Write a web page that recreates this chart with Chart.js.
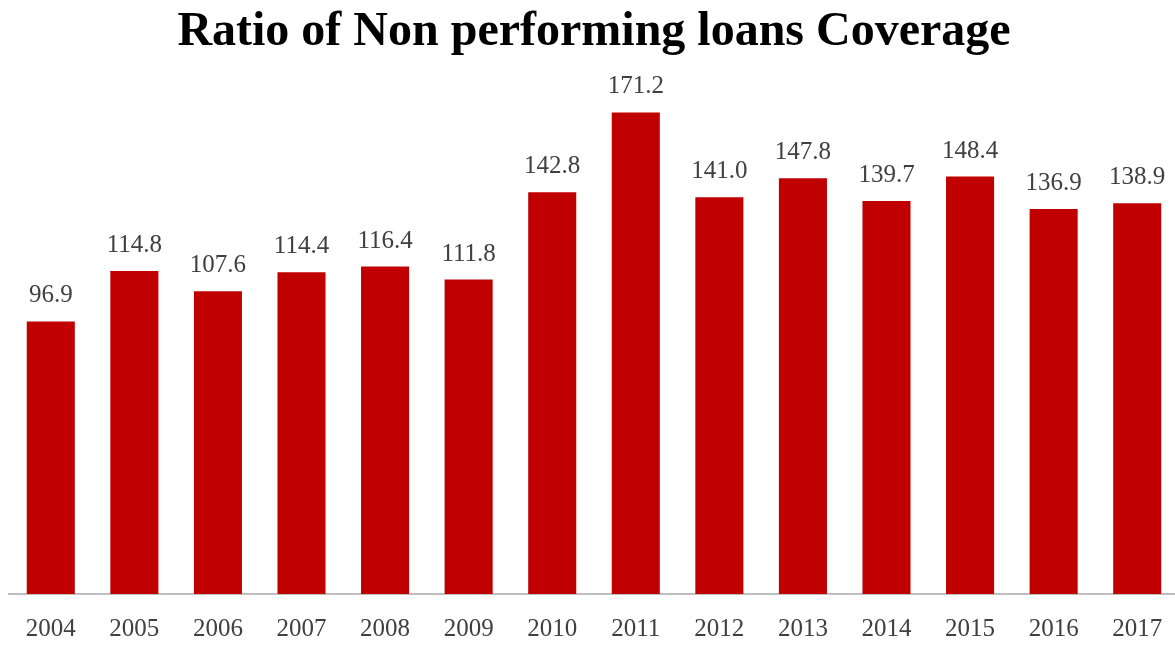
<!DOCTYPE html>
<html>
<head>
<meta charset="utf-8">
<script src="https://cdn.jsdelivr.net/npm/chart.js@4/dist/chart.umd.min.js"></script>
<style>
  html, body { margin: 0; padding: 0; background: #ffffff; overflow: hidden; }
  #wrap { width: 1175px; height: 645px; overflow: hidden; }
</style>
</head>
<body>
<div id="wrap"><canvas id="c" width="1180" height="645"></canvas></div>
<script>
// NPL coverage ratio by year (%)
const years = ['2004','2005','2006','2007','2008','2009','2010','2011','2012','2013','2014','2015','2016','2017'];
const coverage = [96.9, 114.8, 107.6, 114.4, 116.4, 111.8, 142.8, 171.2, 141.0, 147.8, 139.7, 148.4, 136.9, 138.9];

const serif = '"Liberation Serif", "Times New Roman", serif';

// Writes each bar's value just above it
const valueLabels = {
  id: 'valueLabels',
  afterDatasetsDraw(chart) {
    const ctx = chart.ctx;
    const meta = chart.getDatasetMeta(0);
    ctx.save();
    ctx.font = '25px ' + serif;
    ctx.fillStyle = '#404040';
    ctx.textAlign = 'center';
    ctx.textBaseline = 'alphabetic';
    meta.data.forEach((bar, i) => {
      ctx.fillText(coverage[i].toFixed(1), bar.x, bar.y - 19);
    });
    ctx.restore();
  }
};

new Chart(document.getElementById('c'), {
  type: 'bar',
  data: {
    labels: years,
    datasets: [{
      data: coverage,
      backgroundColor: '#C00000',
      borderWidth: 0,
      categoryPercentage: 1.0,
      barPercentage: 0.575
    }]
  },
  options: {
    responsive: false,
    animation: false,
    devicePixelRatio: 1,
    layout: { padding: { left: 9, right: 1, top: 4, bottom: 0 } },
    plugins: {
      legend: { display: false },
      tooltip: { enabled: false },
      title: {
        display: true,
        text: 'Ratio of Non performing loans Coverage',
        color: '#000000',
        font: { family: serif, size: 48, weight: 'bold' },
        padding: { top: 0, bottom: 12 }
      }
    },
    scales: {
      x: {
        grid: { display: false, drawTicks: false },
        border: { display: true, color: '#bfbfbf', width: 2 },
        ticks: {
          color: '#404040',
          font: { family: serif, size: 25 },
          padding: 20,
          maxRotation: 0
        },
        afterFit(scale) {
          scale.height = 51;
          scale.paddingLeft = 0;
          scale.paddingRight = 0;
        }
      },
      y: {
        display: false,
        min: 0,
        max: 185
      }
    }
  },
  plugins: [valueLabels]
});
</script>
</body>
</html>
